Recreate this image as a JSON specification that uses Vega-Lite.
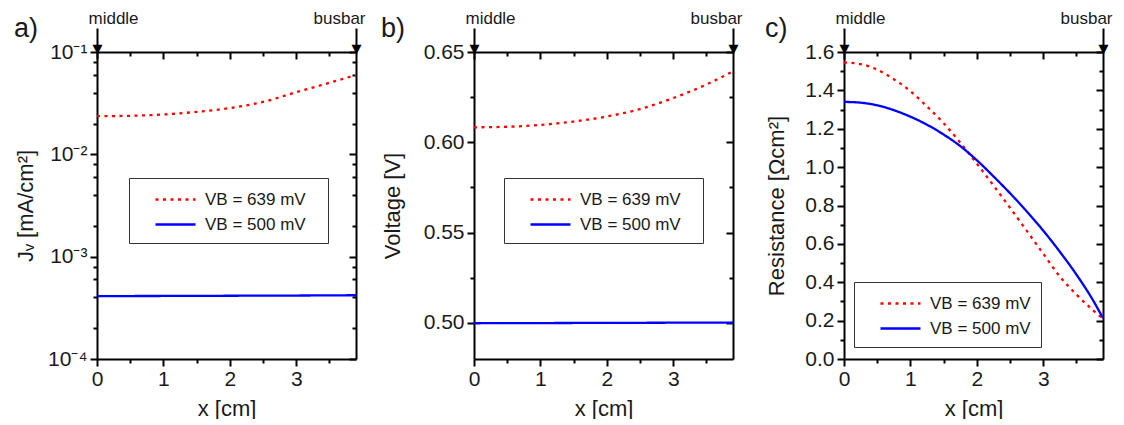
{
  "$schema": "https://vega.github.io/schema/vega-lite/v6.json",
  "padding": {"left": 14, "top": 9, "right": 5, "bottom": 0},
  "spacing": 16,
  "datasets": {
    "a": [
      {"x": 0, "s": "VB = 639 mV", "y": 0.0236},
      {"x": 0.5, "s": "VB = 639 mV", "y": 0.0238},
      {"x": 1, "s": "VB = 639 mV", "y": 0.0245},
      {"x": 1.5, "s": "VB = 639 mV", "y": 0.026},
      {"x": 2, "s": "VB = 639 mV", "y": 0.0283},
      {"x": 2.5, "s": "VB = 639 mV", "y": 0.0325},
      {"x": 3, "s": "VB = 639 mV", "y": 0.0405},
      {"x": 3.5, "s": "VB = 639 mV", "y": 0.05},
      {"x": 3.9, "s": "VB = 639 mV", "y": 0.0596},
      {"x": 0, "s": "VB = 500 mV", "y": 0.000412},
      {"x": 1, "s": "VB = 500 mV", "y": 0.000413},
      {"x": 2, "s": "VB = 500 mV", "y": 0.000415},
      {"x": 3, "s": "VB = 500 mV", "y": 0.000417},
      {"x": 3.9, "s": "VB = 500 mV", "y": 0.00042}
    ],
    "b": [
      {"x": 0, "s": "VB = 639 mV", "y": 0.6083},
      {"x": 0.5, "s": "VB = 639 mV", "y": 0.6086},
      {"x": 1, "s": "VB = 639 mV", "y": 0.6096},
      {"x": 1.5, "s": "VB = 639 mV", "y": 0.6115},
      {"x": 2, "s": "VB = 639 mV", "y": 0.6143},
      {"x": 2.5, "s": "VB = 639 mV", "y": 0.6184},
      {"x": 3, "s": "VB = 639 mV", "y": 0.6245},
      {"x": 3.5, "s": "VB = 639 mV", "y": 0.632},
      {"x": 3.9, "s": "VB = 639 mV", "y": 0.6393},
      {"x": 0, "s": "VB = 500 mV", "y": 0.4998},
      {"x": 1, "s": "VB = 500 mV", "y": 0.4999},
      {"x": 2, "s": "VB = 500 mV", "y": 0.5},
      {"x": 3, "s": "VB = 500 mV", "y": 0.5001},
      {"x": 3.9, "s": "VB = 500 mV", "y": 0.5002}
    ],
    "c": [
      {"x": 0, "s": "VB = 639 mV", "y": 1.545},
      {"x": 0.25, "s": "VB = 639 mV", "y": 1.537},
      {"x": 0.5, "s": "VB = 639 mV", "y": 1.508},
      {"x": 0.75, "s": "VB = 639 mV", "y": 1.458},
      {"x": 1, "s": "VB = 639 mV", "y": 1.396},
      {"x": 1.25, "s": "VB = 639 mV", "y": 1.316},
      {"x": 1.5, "s": "VB = 639 mV", "y": 1.229},
      {"x": 1.75, "s": "VB = 639 mV", "y": 1.128},
      {"x": 2, "s": "VB = 639 mV", "y": 1.018},
      {"x": 2.25, "s": "VB = 639 mV", "y": 0.905},
      {"x": 2.5, "s": "VB = 639 mV", "y": 0.788},
      {"x": 2.75, "s": "VB = 639 mV", "y": 0.669},
      {"x": 3, "s": "VB = 639 mV", "y": 0.549},
      {"x": 3.25, "s": "VB = 639 mV", "y": 0.43},
      {"x": 3.5, "s": "VB = 639 mV", "y": 0.336},
      {"x": 3.75, "s": "VB = 639 mV", "y": 0.254},
      {"x": 3.9, "s": "VB = 639 mV", "y": 0.21},
      {"x": 0, "s": "VB = 500 mV", "y": 1.34},
      {"x": 0.25, "s": "VB = 500 mV", "y": 1.336},
      {"x": 0.5, "s": "VB = 500 mV", "y": 1.322},
      {"x": 0.75, "s": "VB = 500 mV", "y": 1.297},
      {"x": 1, "s": "VB = 500 mV", "y": 1.263},
      {"x": 1.25, "s": "VB = 500 mV", "y": 1.221},
      {"x": 1.5, "s": "VB = 500 mV", "y": 1.17},
      {"x": 1.75, "s": "VB = 500 mV", "y": 1.11},
      {"x": 2, "s": "VB = 500 mV", "y": 1.036},
      {"x": 2.25, "s": "VB = 500 mV", "y": 0.952},
      {"x": 2.5, "s": "VB = 500 mV", "y": 0.864},
      {"x": 2.75, "s": "VB = 500 mV", "y": 0.77},
      {"x": 3, "s": "VB = 500 mV", "y": 0.669},
      {"x": 3.25, "s": "VB = 500 mV", "y": 0.559},
      {"x": 3.5, "s": "VB = 500 mV", "y": 0.44},
      {"x": 3.75, "s": "VB = 500 mV", "y": 0.306},
      {"x": 3.9, "s": "VB = 500 mV", "y": 0.213}
    ]
  },
  "hconcat": [
    {
      "data": {"name": "a"},
      "width": 259, "height": 307,
      "title": {"text": "a)"},
      "layer": [
        {
          "mark": {"type": "line", "strokeWidth": 2.3, "interpolate": "monotone"},
          "encoding": {
            "x": {"field": "x", "type": "quantitative", "scale": {"domain": [0, 3.9], "nice": false, "zero": false},
              "axis": {"orient": "bottom", "values": [0, 0.5, 1, 1.5, 2, 2.5, 3, 3.5], "labelExpr": "datum.value % 1 == 0 ? format(datum.value, 'd') : ''",
                "tickSize": {"condition": {"test": "datum.value % 1 == 0", "value": 7}, "value": 4}, "labelPadding": 2, "title": "x [cm]", "titlePadding": 9}},
            "y": {"field": "y", "type": "quantitative", "scale": {"type": "log", "domain": [0.0001, 0.1], "nice": false},
              "axis": {"orient": "left", "values": [0.0001, 0.0002, 0.0004, 0.0006, 0.0008, 0.001, 0.002, 0.004, 0.006, 0.008, 0.01, 0.02, 0.04, 0.06, 0.08, 0.1],
                "labelExpr": "abs(log(datum.value)/LN10 - round(log(datum.value)/LN10)) < 0.001 ? ['10⁻⁴','10⁻³','10⁻²','10⁻¹'][round(log(datum.value)/LN10)+4] : ''",
                "tickSize": {"condition": {"test": "abs(log(datum.value)/LN10 - round(log(datum.value)/LN10)) < 0.001", "value": 7}, "value": 4},
                "labelPadding": 3, "minExtent": 50, "maxExtent": 50, "title": "Jᵥ [mA/cm²]", "titlePadding": 10}},
            "color": {"field": "s", "type": "nominal", "scale": {"domain": ["VB = 639 mV", "VB = 500 mV"], "range": ["#ff0000", "#0000ff"]},
              "legend": {"legendX": 32, "legendY": 126, "labelExpr": "datum.label + '\u2800'"}},
            "strokeDash": {"field": "s", "type": "nominal", "scale": {"domain": ["VB = 639 mV", "VB = 500 mV"], "range": [[3, 4.5], [1, 0]]},
              "legend": {"legendX": 32, "legendY": 126, "labelExpr": "datum.label + '\u2800'"}}
          }
        },
        {
          "mark": {"type": "line", "opacity": 0},
          "encoding": {
            "detail": {"field": "s"},
            "x": {"field": "x", "type": "quantitative", "scale": {"domain": [0, 3.9], "nice": false, "zero": false},
              "axis": {"orient": "top", "values": [0, 0.5, 1, 1.5, 2, 2.5, 3, 3.5], "labels": false, "title": null,
                "tickSize": {"condition": {"test": "datum.value % 1 == 0", "value": -7}, "value": -4}}},
            "y": {"field": "y", "type": "quantitative", "scale": {"type": "log", "domain": [0.0001, 0.1], "nice": false},
              "axis": {"orient": "right", "values": [0.0001, 0.0002, 0.0004, 0.0006, 0.0008, 0.001, 0.002, 0.004, 0.006, 0.008, 0.01, 0.02, 0.04, 0.06, 0.08, 0.1], "labels": false, "title": null,
                "tickSize": {"condition": {"test": "abs(log(datum.value)/LN10 - round(log(datum.value)/LN10)) < 0.001", "value": -7}, "value": -4}}}
          }
        },
        {
          "mark": {"type": "line", "opacity": 0},
          "encoding": {
            "detail": {"field": "s"},
            "x": {"field": "x", "type": "quantitative", "scale": {"domain": [0, 3.9], "nice": false, "zero": false},
              "axis": {"orient": "top", "values": [0, 3.9], "tickSize": 24, "domain": false, "title": null,
                "labelExpr": "datum.value == 0 ? 'middle' : 'busbar'", "labelFlush": true, "labelFlushOffset": 9, "labelFontSize": 17, "labelPadding": 5, "labelBaseline": "alphabetic"}},
            "y": {"field": "y", "type": "quantitative", "scale": {"type": "log", "domain": [0.0001, 0.1], "nice": false}, "axis": null}
          }
        },
        {
          "mark": {"type": "line", "opacity": 0},
          "encoding": {
            "detail": {"field": "s"},
            "x": {"field": "x", "type": "quantitative", "scale": {"domain": [0, 3.9], "nice": false, "zero": false},
              "axis": {"orient": "top", "values": [0, 3.9], "tickSize": 0, "domain": false, "title": null,
                "labelExpr": "'▼'", "labelFont": "DejaVu Sans", "labelFontSize": 13, "labelPadding": -3, "labelBaseline": "bottom", "labelColor": "#000"}},
            "y": {"field": "y", "type": "quantitative", "scale": {"type": "log", "domain": [0.0001, 0.1], "nice": false}, "axis": null}
          }
        }
      ],
      "resolve": {"axis": {"x": "independent", "y": "independent"}}
    },
    {
      "data": {"name": "b"},
      "width": 259, "height": 307,
      "title": {"text": "b)"},
      "layer": [
        {
          "mark": {"type": "line", "strokeWidth": 2.3, "interpolate": "monotone"},
          "encoding": {
            "x": {"field": "x", "type": "quantitative", "scale": {"domain": [0, 3.9], "nice": false, "zero": false},
              "axis": {"orient": "bottom", "values": [0, 0.5, 1, 1.5, 2, 2.5, 3, 3.5], "labelExpr": "datum.value % 1 == 0 ? format(datum.value, 'd') : ''",
                "tickSize": {"condition": {"test": "datum.value % 1 == 0", "value": 7}, "value": 4}, "labelPadding": 2, "title": "x [cm]", "titlePadding": 9}},
            "y": {"field": "y", "type": "quantitative", "scale": {"domain": [0.48, 0.65], "nice": false, "zero": false},
              "axis": {"orient": "left", "values": [0.5, 0.525, 0.55, 0.575, 0.6, 0.625, 0.65], "format": ".2f",
                "labelExpr": "abs(datum.value*20 - round(datum.value*20)) < 0.001 ? datum.label : ''",
                "tickSize": {"condition": {"test": "abs(datum.value*20 - round(datum.value*20)) < 0.001", "value": 7}, "value": 4},
                "labelPadding": 3, "minExtent": 56, "maxExtent": 56, "title": "Voltage [V]", "titlePadding": 14}},
            "color": {"field": "s", "type": "nominal", "scale": {"domain": ["VB = 639 mV", "VB = 500 mV"], "range": ["#ff0000", "#0000ff"]},
              "legend": {"legendX": 30, "legendY": 126, "labelExpr": "datum.label + '\u2800'"}},
            "strokeDash": {"field": "s", "type": "nominal", "scale": {"domain": ["VB = 639 mV", "VB = 500 mV"], "range": [[3, 4.5], [1, 0]]},
              "legend": {"legendX": 30, "legendY": 126, "labelExpr": "datum.label + '\u2800'"}}
          }
        },
        {
          "mark": {"type": "line", "opacity": 0},
          "encoding": {
            "detail": {"field": "s"},
            "x": {"field": "x", "type": "quantitative", "scale": {"domain": [0, 3.9], "nice": false, "zero": false},
              "axis": {"orient": "top", "values": [0, 0.5, 1, 1.5, 2, 2.5, 3, 3.5], "labels": false, "title": null,
                "tickSize": {"condition": {"test": "datum.value % 1 == 0", "value": -7}, "value": -4}}},
            "y": {"field": "y", "type": "quantitative", "scale": {"domain": [0.48, 0.65], "nice": false, "zero": false},
              "axis": {"orient": "right", "values": [0.5, 0.525, 0.55, 0.575, 0.6, 0.625, 0.65], "labels": false, "title": null, "minExtent": 16,
                "tickSize": {"condition": {"test": "abs(datum.value*20 - round(datum.value*20)) < 0.001", "value": -7}, "value": -4}}}
          }
        },
        {
          "mark": {"type": "line", "opacity": 0},
          "encoding": {
            "detail": {"field": "s"},
            "x": {"field": "x", "type": "quantitative", "scale": {"domain": [0, 3.9], "nice": false, "zero": false},
              "axis": {"orient": "top", "values": [0, 3.9], "tickSize": 24, "domain": false, "title": null,
                "labelExpr": "datum.value == 0 ? 'middle' : 'busbar'", "labelFlush": true, "labelFlushOffset": 9, "labelFontSize": 17, "labelPadding": 5, "labelBaseline": "alphabetic"}},
            "y": {"field": "y", "type": "quantitative", "scale": {"domain": [0.48, 0.65], "nice": false, "zero": false}, "axis": null}
          }
        },
        {
          "mark": {"type": "line", "opacity": 0},
          "encoding": {
            "detail": {"field": "s"},
            "x": {"field": "x", "type": "quantitative", "scale": {"domain": [0, 3.9], "nice": false, "zero": false},
              "axis": {"orient": "top", "values": [0, 3.9], "tickSize": 0, "domain": false, "title": null,
                "labelExpr": "'▼'", "labelFont": "DejaVu Sans", "labelFontSize": 13, "labelPadding": -3, "labelBaseline": "bottom", "labelColor": "#000"}},
            "y": {"field": "y", "type": "quantitative", "scale": {"domain": [0.48, 0.65], "nice": false, "zero": false}, "axis": null}
          }
        }
      ],
      "resolve": {"axis": {"x": "independent", "y": "independent"}}
    },
    {
      "data": {"name": "c"},
      "width": 259, "height": 307,
      "title": {"text": "c)"},
      "layer": [
        {
          "mark": {"type": "line", "strokeWidth": 2.3, "interpolate": "monotone"},
          "encoding": {
            "x": {"field": "x", "type": "quantitative", "scale": {"domain": [0, 3.9], "nice": false, "zero": false},
              "axis": {"orient": "bottom", "values": [0, 0.5, 1, 1.5, 2, 2.5, 3, 3.5], "labelExpr": "datum.value % 1 == 0 ? format(datum.value, 'd') : ''",
                "tickSize": {"condition": {"test": "datum.value % 1 == 0", "value": 7}, "value": 4}, "labelPadding": 2, "title": "x [cm]", "titlePadding": 9}},
            "y": {"field": "y", "type": "quantitative", "scale": {"domain": [0, 1.6], "nice": false, "zero": false},
              "axis": {"orient": "left", "values": [0, 0.1, 0.2, 0.3, 0.4, 0.5, 0.6, 0.7, 0.8, 0.9, 1, 1.1, 1.2, 1.3, 1.4, 1.5, 1.6], "format": ".1f",
                "labelExpr": "abs(datum.value*5 - round(datum.value*5)) < 0.001 ? datum.label : ''",
                "tickSize": {"condition": {"test": "abs(datum.value*5 - round(datum.value*5)) < 0.001", "value": 7}, "value": 4},
                "labelPadding": 3, "minExtent": 45, "maxExtent": 45, "title": "Resistance [Ωcm²]", "titlePadding": 11}},
            "color": {"field": "s", "type": "nominal", "scale": {"domain": ["VB = 639 mV", "VB = 500 mV"], "range": ["#ff0000", "#0000ff"]},
              "legend": {"legendX": 10, "legendY": 230}},
            "strokeDash": {"field": "s", "type": "nominal", "scale": {"domain": ["VB = 639 mV", "VB = 500 mV"], "range": [[3, 4.5], [1, 0]]},
              "legend": {"legendX": 10, "legendY": 230}}
          }
        },
        {
          "mark": {"type": "line", "opacity": 0},
          "encoding": {
            "detail": {"field": "s"},
            "x": {"field": "x", "type": "quantitative", "scale": {"domain": [0, 3.9], "nice": false, "zero": false},
              "axis": {"orient": "top", "values": [0, 0.5, 1, 1.5, 2, 2.5, 3, 3.5], "labels": false, "title": null,
                "tickSize": {"condition": {"test": "datum.value % 1 == 0", "value": -7}, "value": -4}}},
            "y": {"field": "y", "type": "quantitative", "scale": {"domain": [0, 1.6], "nice": false, "zero": false},
              "axis": {"orient": "right", "values": [0, 0.1, 0.2, 0.3, 0.4, 0.5, 0.6, 0.7, 0.8, 0.9, 1, 1.1, 1.2, 1.3, 1.4, 1.5, 1.6], "labels": false, "title": null,
                "tickSize": {"condition": {"test": "abs(datum.value*5 - round(datum.value*5)) < 0.001", "value": -7}, "value": -4}}}
          }
        },
        {
          "mark": {"type": "line", "opacity": 0},
          "encoding": {
            "detail": {"field": "s"},
            "x": {"field": "x", "type": "quantitative", "scale": {"domain": [0, 3.9], "nice": false, "zero": false},
              "axis": {"orient": "top", "values": [0, 3.9], "tickSize": 24, "domain": false, "title": null,
                "labelExpr": "datum.value == 0 ? 'middle' : 'busbar'", "labelFlush": true, "labelFlushOffset": 9, "labelFontSize": 17, "labelPadding": 5, "labelBaseline": "alphabetic"}},
            "y": {"field": "y", "type": "quantitative", "scale": {"domain": [0, 1.6], "nice": false, "zero": false}, "axis": null}
          }
        },
        {
          "mark": {"type": "line", "opacity": 0},
          "encoding": {
            "detail": {"field": "s"},
            "x": {"field": "x", "type": "quantitative", "scale": {"domain": [0, 3.9], "nice": false, "zero": false},
              "axis": {"orient": "top", "values": [0, 3.9], "tickSize": 0, "domain": false, "title": null,
                "labelExpr": "'▼'", "labelFont": "DejaVu Sans", "labelFontSize": 13, "labelPadding": -3, "labelBaseline": "bottom", "labelColor": "#000"}},
            "y": {"field": "y", "type": "quantitative", "scale": {"domain": [0, 1.6], "nice": false, "zero": false}, "axis": null}
          }
        }
      ],
      "resolve": {"axis": {"x": "independent", "y": "independent"}}
    }
  ],
  "resolve": {"scale": {"color": "independent", "strokeDash": "independent"}, "legend": {"color": "independent", "strokeDash": "independent"}},
  "config": {
    "view": {"stroke": null},
    "font": "Liberation Sans",
    "axis": {"domainColor": "#000", "domainWidth": 2, "tickColor": "#000", "tickWidth": 2, "labelFont": "Liberation Sans", "labelFontSize": 21, "labelColor": "#1a1a1a",
      "titleFont": "Liberation Sans", "titleFontSize": 22, "titleFontWeight": "normal", "titleColor": "#1a1a1a", "grid": false, "labelOverlap": false, "labelFlush": false},
    "legend": {"orient": "none", "title": null, "strokeColor": "#333", "strokeWidth": 1, "fillColor": "white", "padding": 10,
      "labelFont": "Liberation Sans", "labelFontSize": 17, "labelColor": "#1a1a1a", "symbolType": "M-2,0L2,0", "symbolSize": 400, "symbolStrokeWidth": 2.5,
      "symbolOffset": 25, "labelOffset": 18, "rowPadding": 5},
    "title": {"anchor": "start", "frame": "bounds", "fontSize": 27, "font": "Liberation Sans", "fontWeight": "normal", "color": "#1a1a1a", "offset": -34}
  }
}
